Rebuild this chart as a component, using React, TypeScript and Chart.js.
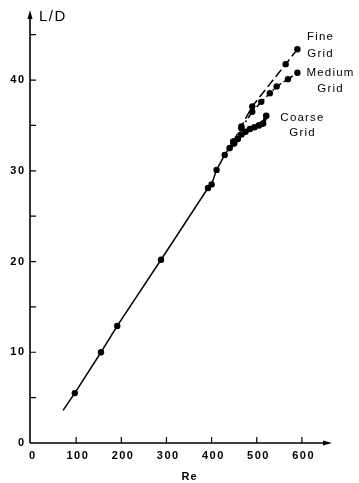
import React, { useEffect, useRef } from "react";
import { Chart, registerables } from "chart.js";

Chart.register(...registerables);

// Common trunk (all grids coincide)
const trunkRe = [71, 97, 155, 191, 288, 392, 400, 411, 429, 448];
const trunkLD = [3.6, 5.5, 10.0, 12.9, 20.2, 28.1, 28.5, 30.1, 31.75, 33.2];
const trunkMarker = [false, true, true, true, true, true, true, true, true, true];

// Fine grid branch
const fineRe = [448, 466, 490, 564, 590];
const fineLD = [33.2, 34.9, 37.1, 41.75, 43.4];

// Medium grid branch
const mediumRe = [448, 466, 490, 510, 529, 544, 569, 590];
const mediumLD = [33.2, 34.7, 36.5, 37.6, 38.55, 39.3, 40.1, 40.8];

// Coarse grid branch
const coarseRe = [440, 450, 458, 466, 475, 485, 495, 505, 514, 521];
const coarseLD = [32.5, 33.0, 33.5, 34.0, 34.3, 34.6, 34.8, 35.0, 35.2, 36.05];

const xTicks = [0, 100, 200, 300, 400, 500, 600];
const yTicks = [0, 10, 20, 30, 40];
const yMinorTicks = [5, 15, 25, 35, 45];

const xTitle = "Re";
const yTitle = "L/D";
const seriesLabels = [
  { lines: ["Fine", "Grid"], re: 640, ld: [44.8, 42.9] },
  { lines: ["Medium", "Grid"], re: 662, ld: [40.8, 39.0] },
  { lines: ["Coarse", "Grid"], re: 600, ld: [35.8, 34.2] },
];

const toPts = (xs: number[], ys: number[]) => xs.map((x, i) => ({ x, y: ys[i] }));

export default function App() {
  const ref = useRef<HTMLCanvasElement>(null);

  useEffect(() => {
    if (!ref.current) return;
    const font = "'Liberation Sans', Arial, sans-serif";

    const drawText = (ctx: any, t: string, x: number, y: number, spacing: number, align: string) => {
      // manual letter spacing
      const widths = [...t].map((c) => ctx.measureText(c).width);
      const total = widths.reduce((a, b) => a + b, 0) + spacing * (t.length - 1);
      let start = x;
      if (align === "center") start = x - total / 2;
      else if (align === "right") start = x - total;
      const prev = ctx.textAlign;
      ctx.textAlign = "left";
      let cx = start;
      [...t].forEach((c, i) => {
        ctx.fillText(c, cx, y);
        cx += widths[i] + spacing;
      });
      ctx.textAlign = prev;
    };

    const axesPlugin = {
      id: "paperAxes",
      afterDraw(chart: any) {
        const { ctx, scales } = chart;
        const xs = scales.x;
        const ys = scales.y;
        const ax = xs.getPixelForValue(0) - 1;
        const ay = ys.getPixelForValue(0);
        const yTop = ys.getPixelForValue(47.4);
        const xRight = xs.getPixelForValue(660);
        ctx.save();
        ctx.strokeStyle = "#000";
        ctx.fillStyle = "#000";
        ctx.lineWidth = 1.6;
        ctx.setLineDash([]);
        // axes
        ctx.beginPath();
        ctx.moveTo(ax, ay);
        ctx.lineTo(ax, yTop + 4);
        ctx.moveTo(ax, ay);
        ctx.lineTo(xRight - 4, ay);
        ctx.stroke();
        // arrows
        ctx.beginPath();
        ctx.moveTo(ax, yTop - 3);
        ctx.lineTo(ax - 2.5, yTop + 6);
        ctx.lineTo(ax + 2.5, yTop + 6);
        ctx.closePath();
        ctx.fill();
        ctx.beginPath();
        ctx.moveTo(xRight + 3, ay);
        ctx.lineTo(xRight - 6, ay - 2.5);
        ctx.lineTo(xRight - 6, ay + 2.5);
        ctx.closePath();
        ctx.fill();
        // ticks
        ctx.lineWidth = 1.2;
        ctx.beginPath();
        [...yTicks.slice(1), ...yMinorTicks].forEach((v) => {
          const py = ys.getPixelForValue(v);
          ctx.moveTo(ax, py);
          ctx.lineTo(ax + 6, py);
        });
        xTicks.slice(1).forEach((v) => {
          const px = xs.getPixelForValue(v);
          ctx.moveTo(px, ay);
          ctx.lineTo(px, ay - 6);
        });
        ctx.stroke();
        // tick labels
        ctx.font = `bold 11px ${font}`;
        ctx.textBaseline = "middle";
        yTicks.forEach((v) => {
          drawText(ctx, String(v), ax - 6, ys.getPixelForValue(v), 1.5, "right");
        });
        xTicks.forEach((v) => {
          drawText(ctx, String(v), xs.getPixelForValue(v) + 1, ay + 13, 1.5, "center");
        });
        // titles
        ctx.font = `bold 11px ${font}`;
        drawText(ctx, xTitle, xs.getPixelForValue(350), ay + 34, 1, "center");
        ctx.font = `15px ${font}`;
        drawText(ctx, yTitle, ax + 9, ys.getPixelForValue(47.2) + 2, 1.5, "left");
        // series labels
        ctx.font = `11.5px ${font}`;
        seriesLabels.forEach((s) => {
          s.lines.forEach((t, i) => {
            drawText(ctx, t, xs.getPixelForValue(s.re), ys.getPixelForValue(s.ld[i]), 1.2, "center");
          });
        });
        ctx.restore();
      },
    };

    const base = {
      showLine: true,
      borderColor: "#000",
      backgroundColor: "#000",
      pointBackgroundColor: "#000",
      pointBorderColor: "#000",
      pointBorderWidth: 0,
      pointRadius: 3.2,
      tension: 0,
    };

    const chart = new Chart(ref.current, {
      type: "scatter",
      data: {
        datasets: [
          {
            ...base,
            label: "Coarse Grid",
            data: toPts(coarseRe, coarseLD),
            borderWidth: 3.5,
            pointRadius: 3.3,
          },
          {
            ...base,
            label: "Fine Grid",
            data: toPts(fineRe, fineLD),
            borderWidth: 1.5,
            borderDash: [9, 4],
          },
          {
            ...base,
            label: "Medium Grid",
            data: toPts(mediumRe, mediumLD),
            borderWidth: 1.5,
            borderDash: [6, 3, 2, 3],
          },
          {
            ...base,
            label: "Trunk",
            data: toPts(trunkRe, trunkLD),
            borderWidth: 1.5,
            pointRadius: trunkMarker.map((m) => (m ? 3.2 : 0)),
          },
        ],
      },
      options: {
        responsive: false,
        animation: false,
        events: [],
        layout: { padding: { left: 31, right: 30, top: 12, bottom: 40 } },
        plugins: { legend: { display: false }, tooltip: { enabled: false } },
        scales: {
          x: { type: "linear", min: 0, max: 660, display: false },
          y: { type: "linear", min: 0, max: 47.5, display: false },
        },
      },
      plugins: [axesPlugin],
    } as any);
    return () => chart.destroy();
  }, []);

  return (
    <div style={{ position: "absolute", left: 0, top: 0, width: 359, height: 483, background: "#fff" }}>
      <canvas ref={ref} width={359} height={483} style={{ display: "block" }} />
    </div>
  );
}
